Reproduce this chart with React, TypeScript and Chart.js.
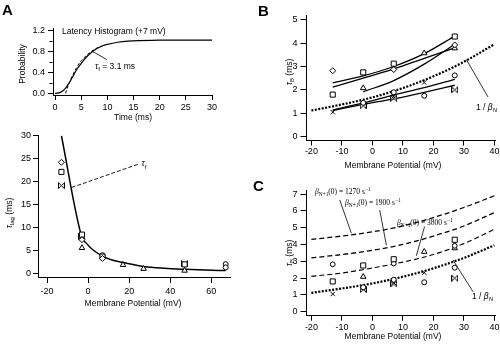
import React, { useEffect, useRef } from "react";
import { Chart, registerables } from "chart.js";
Chart.register(...registerables);

const W = 500;
const H = 347;

// ---------- Panel A (top): latency histogram at +7 mV ----------
const latencyTime = [0, 1, 1.5, 2, 2.5, 3, 3.5, 4, 5, 6, 7, 8, 9, 10, 12, 14, 16, 20, 25, 30];
const latencyProb = [0, 0.02, 0.05, 0.1, 0.17, 0.25, 0.34, 0.43, 0.57, 0.69, 0.78, 0.85, 0.9, 0.93, 0.97, 0.99, 1.0, 1.01, 1.01, 1.01];
const latencyFitTime = [2, 2.5, 3, 4, 5, 6, 7, 8, 9];
const latencyFitProb = [0, 0.15, 0.27, 0.47, 0.62, 0.72, 0.8, 0.86, 0.9];
const tauFArrowTime = [7.1, 9.9];
const tauFArrowProb = [0.8, 0.64];
const latencyTicksX = [0, 5, 10, 15, 20, 25, 30];
const latencyTicksY = [0, 0.4, 0.8, 1.2];
const latencyMinorY = [0.2, 0.6, 1.0];

// ---------- Panel A (bottom): tau_lag vs membrane potential ----------
const lagCurveV = [-13, -3, -1, 2, 7, 12, 17, 27, 37, 47, 57, 67];
const lagCurveT = [30, 7.8, 6.6, 5.2, 3.7, 2.8, 2.3, 1.45, 1.05, 0.82, 0.66, 0.55];
const lagDiamondV = [-13, -3, 7];
const lagDiamondT = [24.2, 7.3, 3.2];
const lagSquareV = [-13, -3, 7, 47];
const lagSquareT = [22.1, 8.4, 3.6, 1.9];
const lagBowtieV = [-13, -3, 47];
const lagBowtieT = [19.1, 8.0, 2.05];
const lagTriangleV = [-3, 17, 27, 47];
const lagTriangleT = [5.5, 1.8, 0.95, 0.55];
const lagCircleV = [7, 67, 67];
const lagCircleT = [3.9, 1.95, 1.25];
const tauFLeaderV = [-8, 24.5];
const tauFLeaderT = [18.7, 23.8];
const lagTicksX = [-20, 0, 20, 40, 60];
const lagTicksY = [0, 5, 10, 15, 20, 25, 30];

// ---------- Panels B & C: tau_B vs membrane potential ----------
const burstSquareV = [-13, -3, 7, 27];
const burstSquareT = [1.8, 2.75, 3.12, 4.28];
const burstDiamondV = [-13, 7, 27];
const burstDiamondT = [2.82, 2.87, 3.92];
const burstTriangleV = [-3, 17, 27];
const burstTriangleT = [2.08, 3.57, 3.78];
const burstCircleV = [-3, 7, 17, 27];
const burstCircleT = [1.45, 1.9, 1.75, 2.62];
const burstCrossV = [-13, 7, 17];
const burstCrossT = [1.05, 1.72, 2.32];
const burstBowtieV = [-3, 7, 27];
const burstBowtieT = [1.32, 1.65, 2.0];

const fitV = [-13, -3, 7, 17, 27];
const fit1T = [2.3, 2.6, 3.0, 3.55, 4.3];
const fit2T = [2.12, 2.5, 2.9, 3.35, 3.8];
const fit3V = [-3, 7, 17, 27];
const fit3T = [1.92, 2.4, 3.1, 3.95];
const fit4T = [1.15, 1.45, 1.78, 2.1, 2.45];
const fit5T = [1.12, 1.38, 1.62, 1.9, 2.2];

const curveV = [-20, -10, 0, 10, 20, 30, 40];
const invBetaNT = [1.12, 1.38, 1.68, 2.08, 2.58, 3.2, 3.95];
const beta1270T = [4.3, 4.5, 4.75, 5.1, 5.6, 6.2, 6.9];
const beta1900T = [3.2, 3.4, 3.65, 4.0, 4.5, 5.1, 5.9];
const beta3800T = [2.1, 2.3, 2.6, 2.95, 3.4, 4.05, 4.9];

const leaderBV = [30.8, 37.9];
const leaderBT = [3.3, 1.7];
const leaderC1V = [-10.7, -6.9];
const leaderC1T = [6.65, 4.67];
const leaderC2V = [2.4, 4.6];
const leaderC2T = [6.05, 3.95];
const leaderC3V = [17.1, 14.4];
const leaderC3T = [5.06, 3.32];
const leaderCNV = [26.4, 33];
const leaderCNT = [3.08, 1.19];

const burstTicksX = [-20, -10, 0, 10, 20, 30, 40];
const burstTicksYB = [0, 1, 2, 3, 4, 5];
const burstTicksYC = [0, 1, 2, 3, 4, 5, 6, 7];

// ---------- helpers ----------
const pts = (xs: number[], ys: number[]) => xs.map((x, i) => ({ x, y: ys[i] }));

const smooth = (xs: number[], ys: number[], w: number, dash: number[] = []) => ({
  data: pts(xs, ys),
  showLine: true,
  borderColor: "#000",
  borderWidth: w,
  borderDash: dash,
  pointRadius: 0,
  cubicInterpolationMode: "monotone",
  fill: false,
});
const straight = (xs: number[], ys: number[], w: number, dash: number[] = []) => ({
  data: pts(xs, ys),
  showLine: true,
  borderColor: "#000",
  borderWidth: w,
  borderDash: dash,
  pointRadius: 0,
  tension: 0,
  fill: false,
});
const marks = (xs: number[], ys: number[], style: any, r: number) => ({
  data: pts(xs, ys),
  showLine: false,
  pointStyle: style,
  pointRadius: r,
  pointBorderColor: "#000",
  pointBackgroundColor: "#fff",
  pointBorderWidth: 1,
  borderColor: "#000",
  backgroundColor: "#fff",
});

function makeBowtie(): HTMLCanvasElement {
  const c = document.createElement("canvas");
  c.width = 7;
  c.height = 7;
  const g = c.getContext("2d")!;
  g.fillStyle = "#fff";
  g.strokeStyle = "#000";
  g.lineWidth = 1;
  g.beginPath();
  g.moveTo(0.5, 0.5);
  g.lineTo(6.5, 6.5);
  g.lineTo(6.5, 0.5);
  g.lineTo(0.5, 6.5);
  g.closePath();
  g.fill();
  g.stroke();
  return c;
}

type Part = { t: string; sub?: boolean; sup?: boolean; italic?: boolean };
type Label = {
  x: number;
  y: number;
  data?: boolean;
  rot?: boolean;
  align?: "left" | "center" | "right";
  size?: number;
  family?: string;
  bold?: boolean;
  baseline?: CanvasTextBaseline;
  parts: Part[];
};

type Panel = {
  area: { l: number; t: number; r: number; b: number };
  x: [number, number];
  y: [number, number];
  xTicks: number[];
  yTicks: number[];
  xFmt: (v: number) => string;
  yFmt: (v: number) => string;
  xTick: [number, number];
  yTick: [number, number];
  yMinor?: number[];
  datasets: any[];
  labels: Label[];
};

const SANS = "Liberation Sans";
const SERIF = "Liberation Serif";
const FS = 8.5;
const TFS = 9;

function drawLabel(chart: any, lab: Label) {
  const ctx: CanvasRenderingContext2D = chart.ctx;
  let px = lab.x;
  let py = lab.y;
  if (lab.data) {
    px = chart.scales.x.getPixelForValue(lab.x);
    py = chart.scales.y.getPixelForValue(lab.y);
  }
  const size = lab.size ?? FS;
  const family = lab.family ?? SANS;
  const fontFor = (p: Part) =>
    `${p.italic ? "italic " : ""}${lab.bold ? "bold " : ""}${p.sub || p.sup ? size * 0.72 : size}px "${family}"`;
  const widths = lab.parts.map((p) => {
    ctx.font = fontFor(p);
    return ctx.measureText(p.t).width;
  });
  const total = widths.reduce((a, b) => a + b, 0);
  ctx.save();
  ctx.translate(px, py);
  if (lab.rot) ctx.rotate(-Math.PI / 2);
  let x0 = lab.align === "center" ? -total / 2 : lab.align === "right" ? -total : 0;
  ctx.textBaseline = lab.baseline ?? "middle";
  ctx.textAlign = "left";
  ctx.fillStyle = "#000";
  lab.parts.forEach((p, i) => {
    ctx.font = fontFor(p);
    const dy = p.sub ? size * 0.32 : p.sup ? -size * 0.38 : 0;
    ctx.fillText(p.t, x0, dy);
    x0 += widths[i];
  });
  ctx.restore();
}

const YW = 30;
const XH = 24;

function makeChart(canvas: HTMLCanvasElement, p: Panel) {
  const textPlugin = {
    id: "panelText",
    afterDraw(chart: any) {
      const ctx: CanvasRenderingContext2D = chart.ctx;
      if (p.yMinor) {
        ctx.save();
        ctx.strokeStyle = "#000";
        ctx.lineWidth = 1;
        const left = Math.round(chart.chartArea.left) - 0.5;
        p.yMinor.forEach((v) => {
          const yy = Math.round(chart.scales.y.getPixelForValue(v)) + 0.5;
          ctx.beginPath();
          ctx.moveTo(left - 3, yy);
          ctx.lineTo(left, yy);
          ctx.stroke();
        });
        ctx.restore();
      }
      p.labels.forEach((l) => drawLabel(chart, l));
    },
  };
  const axisCommon = (tickLen: number) => ({
    type: "linear" as const,
    grid: {
      display: true,
      drawOnChartArea: false,
      drawTicks: true,
      tickLength: tickLen,
      color: "#000",
      lineWidth: 1,
    },
    border: { display: true, color: "#000", width: 1 },
  });
  return new Chart(canvas, {
    type: "scatter",
    data: { datasets: p.datasets },
    options: {
      animation: false,
      responsive: false,
      maintainAspectRatio: false,
      devicePixelRatio: 1,
      events: [],
      layout: {
        padding: {
          left: p.area.l - YW,
          top: p.area.t,
          right: W - p.area.r,
          bottom: H - p.area.b - XH,
        },
      },
      plugins: { legend: { display: false }, tooltip: { enabled: false }, title: { display: false } },
      scales: {
        x: {
          ...axisCommon(p.xTick[0]),
          min: p.x[0],
          max: p.x[1],
          afterBuildTicks: (s: any) => {
            s.ticks = p.xTicks.map((v) => ({ value: v }));
          },
          afterFit: (s: any) => {
            s.height = XH;
            s.paddingLeft = 0;
            s.paddingRight = 0;
            s.paddingTop = 0;
            s.paddingBottom = 0;
          },
          ticks: {
            autoSkip: false,
            maxRotation: 0,
            padding: p.xTick[1],
            color: "#000",
            font: { family: SANS, size: TFS },
            callback: (v: any) => p.xFmt(Number(v)),
          },
        },
        y: {
          ...axisCommon(p.yTick[0]),
          min: p.y[0],
          max: p.y[1],
          afterBuildTicks: (s: any) => {
            s.ticks = p.yTicks.map((v) => ({ value: v }));
          },
          afterFit: (s: any) => {
            s.width = YW;
            s.paddingLeft = 0;
            s.paddingRight = 0;
            s.paddingTop = 0;
            s.paddingBottom = 0;
          },
          ticks: {
            autoSkip: false,
            padding: p.yTick[1],
            color: "#000",
            font: { family: SANS, size: TFS },
            callback: (v: any) => p.yFmt(Number(v)),
          },
        },
      },
    } as any,
    plugins: [textPlugin],
  });
}

function buildPanels(): Panel[] {
  const bow = makeBowtie();
  const mvTitle = (cx: number, cy: number): Label => ({
    x: cx,
    y: cy,
    align: "center",
    parts: [{ t: "Membrane Potential (mV)" }],
  });
  const tauB = (cx: number, cy: number): Label => ({
    x: cx,
    y: cy,
    rot: true,
    align: "center",
    parts: [{ t: "τ", italic: true }, { t: "B", sub: true }, { t: " (ms)" }],
  });
  const invBeta = (x: number, y: number): Label => ({
    x,
    y,
    parts: [{ t: "1 / " }, { t: "β", italic: true }, { t: "N", sub: true, italic: true }],
  });
  const betaLabel = (x: number, y: number, val: string): Label => ({
    x,
    y,
    family: SERIF,
    size: 7.5,
    parts: [
      { t: "β", italic: true },
      { t: "N+1", sub: true },
      { t: `(0) = ${val} s` },
      { t: "−1", sup: true },
    ],
  });
  const burstMarks = (diamondStyle: string) => [
    marks(burstSquareV, burstSquareT, "rect", 3.6),
    marks(burstDiamondV, burstDiamondT, diamondStyle, diamondStyle === "circle" ? 2.4 : 3),
    marks(burstTriangleV, burstTriangleT, "triangle", 3.2),
    marks(burstCircleV, burstCircleT, "circle", 2.5),
    marks(burstCrossV, burstCrossT, "crossRot", 3),
    marks(burstBowtieV, burstBowtieT, bow, 3),
  ];

  const A1: Panel = {
    area: { l: 53, t: 28, r: 212, b: 95 },
    x: [-0.4, 30],
    y: [-0.03, 1.24],
    xTicks: latencyTicksX,
    yTicks: latencyTicksY,
    xFmt: (v) => String(v),
    yFmt: (v) => v.toFixed(1),
    xTick: [5, 2],
    yTick: [5, 3],
    yMinor: latencyMinorY,
    datasets: [
      smooth(latencyTime, latencyProb, 1.2),
      smooth(latencyFitTime, latencyFitProb, 1, [3, 2]),
      straight(tauFArrowTime, tauFArrowProb, 0.8),
    ],
    labels: [
      { x: 2, y: 15, baseline: "alphabetic", bold: true, size: 15, parts: [{ t: "A" }] },
      { x: 23, y: 64, rot: true, align: "center", parts: [{ t: "Probability" }] },
      { x: 133, y: 118, align: "center", parts: [{ t: "Time (ms)" }] },
      { x: 62, y: 32, parts: [{ t: "Latency Histogram (+7 mV)" }] },
      {
        x: 95,
        y: 67,
        parts: [{ t: "τ", italic: true }, { t: "f", sub: true }, { t: " = 3.1 ms" }],
      },
    ],
  };

  const A2: Panel = {
    area: { l: 38, t: 135.5, r: 230, b: 277 },
    x: [-24.4, 69.1],
    y: [-0.85, 30.05],
    xTicks: lagTicksX,
    yTicks: lagTicksY,
    xFmt: (v) => String(v),
    yFmt: (v) => String(v),
    xTick: [6, 3],
    yTick: [5, 2],
    datasets: [
      marks(lagDiamondV, lagDiamondT, "rectRot", 3),
      marks(lagSquareV, lagSquareT, "rect", 3.6),
      marks(lagBowtieV, lagBowtieT, bow, 3),
      marks(lagTriangleV, lagTriangleT, "triangle", 3.2),
      marks(lagCircleV, lagCircleT, "circle", 2.5),
      smooth(lagCurveV, lagCurveT, 1.5),
      straight(tauFLeaderV, tauFLeaderT, 0.9, [4, 2]),
    ],
    labels: [
      {
        x: 10,
        y: 213,
        rot: true,
        align: "center",
        parts: [{ t: "τ", italic: true }, { t: "lag", sub: true }, { t: " (ms)" }],
      },
      mvTitle(133, 304),
      { x: 26, y: 23.8, data: true, parts: [{ t: "τ", italic: true }, { t: "f", sub: true }] },
    ],
  };

  const B: Panel = {
    area: { l: 306.5, t: 15, r: 495, b: 140.5 },
    x: [-21.6, 40.2],
    y: [-0.16, 5.2],
    xTicks: burstTicksX,
    yTicks: burstTicksYB,
    xFmt: (v) => String(v),
    yFmt: (v) => String(v),
    xTick: [5, 1],
    yTick: [6, 3],
    datasets: [
      ...burstMarks("rectRot"),
      smooth(fitV, fit1T, 1.3),
      smooth(fitV, fit2T, 1.3),
      smooth(fit3V, fit3T, 1.3),
      smooth(fitV, fit4T, 1.3),
      smooth(fitV, fit5T, 1.3),
      smooth(curveV, invBetaNT, 2.2, [2, 1.5]),
      straight(leaderBV, leaderBT, 0.8),
    ],
    labels: [
      { x: 258, y: 16, baseline: "alphabetic", bold: true, size: 15, parts: [{ t: "B" }] },
      tauB(290, 72),
      mvTitle(393, 166),
      invBeta(476, 108),
    ],
  };

  const C: Panel = {
    area: { l: 306.5, t: 190.7, r: 495, b: 315.7 },
    x: [-21.6, 40.2],
    y: [-0.24, 7.2],
    xTicks: burstTicksX,
    yTicks: burstTicksYC,
    xFmt: (v) => String(v),
    yFmt: (v) => String(v),
    xTick: [5, 1],
    yTick: [6, 3],
    datasets: [
      ...burstMarks("circle"),
      smooth(curveV, beta1270T, 1.3, [5, 3]),
      smooth(curveV, beta1900T, 1.3, [5, 3]),
      smooth(curveV, beta3800T, 1.1, [5, 3]),
      smooth(curveV, invBetaNT, 2.2, [2, 1.5]),
      straight(leaderC1V, leaderC1T, 0.8),
      straight(leaderC2V, leaderC2T, 0.8),
      straight(leaderC3V, leaderC3T, 0.8),
      straight(leaderCNV, leaderCNT, 0.8),
    ],
    labels: [
      { x: 253, y: 191, baseline: "alphabetic", bold: true, size: 15, parts: [{ t: "C" }] },
      tauB(290, 253),
      mvTitle(393, 337),
      invBeta(472, 297),
      betaLabel(315, 192, "1270"),
      betaLabel(345, 203.5, "1900"),
      betaLabel(397, 223, "3800"),
    ],
  };

  return [A1, A2, B, C];
}

export default function App() {
  const r0 = useRef<HTMLCanvasElement>(null);
  const r1 = useRef<HTMLCanvasElement>(null);
  const r2 = useRef<HTMLCanvasElement>(null);
  const r3 = useRef<HTMLCanvasElement>(null);
  const refs = [r0, r1, r2, r3];

  useEffect(() => {
    document.body.style.margin = "0";
    const panels = buildPanels();
    const charts = panels.map((p, i) => makeChart(refs[i].current!, p));
    return () => charts.forEach((c) => c.destroy());
  }, []);

  return (
    <div style={{ position: "absolute", left: 0, top: 0, width: W, height: H, background: "#fff" }}>
      {refs.map((r, i) => (
        <canvas
          key={i}
          ref={r}
          width={W}
          height={H}
          style={{ position: "absolute", left: 0, top: 0, width: W, height: H }}
        />
      ))}
    </div>
  );
}
